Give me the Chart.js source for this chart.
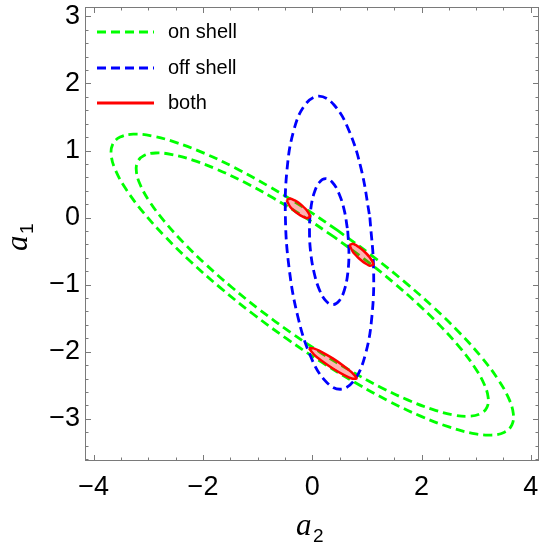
<!DOCTYPE html>
<html>
<head>
<meta charset="utf-8">
<script src="https://cdn.jsdelivr.net/npm/chart.js@4/dist/chart.umd.min.js"></script>
<style>
  body { margin: 0; background: #fff; }
  #wrap { width: 542px; height: 546px; }
</style>
</head>
<body>
<div id="wrap"><canvas id="shellChart" width="542" height="546"></canvas></div>
<script>
// axis ranges (a2 horizontal, a1 vertical)
const xRange = [-4.16, 4.15];
const yRange = [-3.63, 3.14];

// on shell: two nested ellipses, [a2, a1]
const onShellOuter = [[0.463,-0.191],[-0.178,0.160],[-0.815,0.475],[-1.426,0.747],[-1.994,0.965],[-2.501,1.122],[-2.932,1.217],[-3.276,1.243],[-3.518,1.200],[-3.654,1.092],[-3.679,0.920],[-3.592,0.689],[-3.396,0.407],[-3.097,0.082],[-2.704,-0.275],[-2.228,-0.655],[-1.685,-1.045],[-1.090,-1.434],[-0.463,-1.809],[0.178,-2.160],[0.815,-2.475],[1.426,-2.747],[1.994,-2.965],[2.501,-3.122],[2.932,-3.217],[3.276,-3.243],[3.518,-3.200],[3.654,-3.092],[3.679,-2.920],[3.592,-2.689],[3.396,-2.407],[3.097,-2.082],[2.704,-1.725],[2.228,-1.345],[1.685,-0.955],[1.090,-0.566],[0.463,-0.191]];
const onShellInner = [[0.405,-0.292],[-0.156,0.015],[-0.713,0.291],[-1.248,0.529],[-1.745,0.719],[-2.188,0.857],[-2.566,0.940],[-2.867,0.963],[-3.078,0.925],[-3.197,0.831],[-3.219,0.680],[-3.143,0.478],[-2.972,0.231],[-2.710,-0.053],[-2.366,-0.366],[-1.950,-0.698],[-1.474,-1.039],[-0.954,-1.380],[-0.405,-1.708],[0.156,-2.015],[0.713,-2.291],[1.248,-2.529],[1.745,-2.719],[2.188,-2.857],[2.566,-2.940],[2.867,-2.963],[3.078,-2.925],[3.197,-2.831],[3.219,-2.680],[3.143,-2.478],[2.972,-2.231],[2.710,-1.947],[2.366,-1.634],[1.950,-1.302],[1.474,-0.961],[0.954,-0.620],[0.405,-0.292]];

// off shell: two nested ellipses
const offShellOuter = [[1.054,0.004],[1.122,-0.754],[1.092,-1.468],[0.969,-2.049],[0.766,-2.428],[0.510,-2.560],[0.230,-2.428],[-0.041,-2.049],[-0.267,-1.468],[-0.424,-0.754],[-0.492,0.004],[-0.462,0.718],[-0.339,1.299],[-0.136,1.678],[0.120,1.810],[0.400,1.678],[0.671,1.299],[0.897,0.718],[1.054,0.004]];
const offShellInner = [[0.649,-0.197],[0.671,-0.523],[0.650,-0.830],[0.588,-1.080],[0.492,-1.243],[0.375,-1.300],[0.250,-1.243],[0.132,-1.080],[0.036,-0.830],[-0.029,-0.523],[-0.051,-0.197],[-0.030,0.110],[0.032,0.360],[0.128,0.523],[0.245,0.580],[0.370,0.523],[0.488,0.360],[0.585,0.110],[0.649,-0.197]];

// both: the three overlap regions
const bothLeft = [[-0.470,0.260],[-0.406,0.284],[-0.320,0.255],[-0.255,0.223],[-0.191,0.182],[-0.105,0.113],[-0.040,0.015],[-0.105,-0.009],[-0.191,0.020],[-0.255,0.053],[-0.320,0.093],[-0.406,0.162],[-0.470,0.260]];
const bothMiddle = [[0.680,-0.410],[0.746,-0.392],[0.834,-0.430],[0.900,-0.470],[0.966,-0.517],[1.054,-0.595],[1.120,-0.700],[1.054,-0.718],[0.966,-0.680],[0.900,-0.640],[0.834,-0.593],[0.746,-0.515],[0.680,-0.410]];
const bothBottom = [[-0.060,-1.950],[0.027,-1.950],[0.158,-1.998],[0.375,-2.100],[0.593,-2.223],[0.723,-2.310],[0.810,-2.400],[0.723,-2.400],[0.593,-2.353],[0.375,-2.250],[0.158,-2.128],[0.027,-2.040],[-0.060,-1.950]];

const legendLabels = ['on shell', 'off shell', 'both'];

const GREEN = '#00ff00';
const BLUE = '#0000ff';
const RED = '#ff0000';
const PINK = 'rgba(255, 0, 0, 0.3)';

function toPoints(arr) {
    return arr.map(p => ({ x: p[0], y: p[1] }));
}

function curve(arr, color, order) {
    return {
        data: toPoints(arr),
        showLine: true,
        borderColor: color,
        borderWidth: 2.8,
        borderDash: [9, 5],
        pointRadius: 0,
        tension: 0.4,
        fill: false,
        order: order
    };
}

function blob(arr) {
    return {
        data: toPoints(arr),
        showLine: true,
        borderColor: RED,
        backgroundColor: PINK,
        borderWidth: 2.5,
        pointRadius: 0,
        tension: 0.2,
        fill: 'shape',
        order: 0
    };
}

function minus(v) {
    return v < 0 ? '\u2212' + Math.abs(v) : String(v);
}

// frame, inward ticks, axis titles and legend (Mathematica style)
const framePlugin = {
    id: 'framePlugin',
    afterDraw(chart) {
        const c = chart.ctx;
        const a = chart.chartArea;
        const xs = chart.scales.x, ys = chart.scales.y;
        c.save();
        c.strokeStyle = '#7a7a7a';
        c.lineWidth = 1;
        c.strokeRect(a.left + 0.5, a.top + 0.5, a.right - a.left - 1, a.bottom - a.top - 1);

        c.beginPath();
        for (let i = Math.ceil(xs.min * 2); i <= Math.floor(xs.max * 2); i++) {
            const v = i / 2;
            const len = (i % 4 === 0) ? 6 : 3.5;
            const px = Math.round(xs.getPixelForValue(v)) + 0.5;
            c.moveTo(px, a.bottom); c.lineTo(px, a.bottom - len);
            c.moveTo(px, a.top); c.lineTo(px, a.top + len);
        }
        for (let i = Math.ceil(ys.min * 5); i <= Math.floor(ys.max * 5); i++) {
            const v = i / 5;
            const len = (i % 5 === 0) ? 6 : 3.5;
            const py = Math.round(ys.getPixelForValue(v)) + 0.5;
            c.moveTo(a.left, py); c.lineTo(a.left + len, py);
            c.moveTo(a.right, py); c.lineTo(a.right - len, py);
        }
        c.stroke();

        // axis titles
        c.fillStyle = '#000';
        c.textBaseline = 'alphabetic';
        c.textAlign = 'left';
        c.font = 'italic 31px "Liberation Serif"';
        c.fillText('a', 296, 535);
        c.font = '19px "Liberation Sans"';
        c.fillText('2', 313, 542);

        c.save();
        c.translate(27, 251);
        c.rotate(-Math.PI / 2);
        c.font = 'italic 31px "Liberation Serif"';
        c.fillText('a', 0, 0);
        c.font = '19px "Liberation Sans"';
        c.fillText('1', 17, 6);
        c.restore();

        // legend
        const styles = [[GREEN, [9, 5]], [BLUE, [9, 5]], [RED, []]];
        const rows = [32, 68, 103];
        c.font = '20px "Liberation Sans"';
        legendLabels.forEach((label, i) => {
            c.beginPath();
            c.strokeStyle = styles[i][0];
            c.lineWidth = 2.8;
            c.setLineDash(styles[i][1]);
            c.moveTo(97, rows[i]);
            c.lineTo(154, rows[i]);
            c.stroke();
            c.setLineDash([]);
            c.fillStyle = '#000';
            c.fillText(label, 168, rows[i] + 5.5);
        });
        c.restore();
    }
};

const ctx = document.getElementById('shellChart').getContext('2d');
new Chart(ctx, {
    type: 'scatter',
    data: {
        datasets: [
            blob(bothLeft),
            blob(bothMiddle),
            blob(bothBottom),
            curve(offShellOuter, BLUE, 1),
            curve(offShellInner, BLUE, 1),
            curve(onShellOuter, GREEN, 2),
            curve(onShellInner, GREEN, 2)
        ]
    },
    options: {
        responsive: false,
        animation: false,
        layout: { padding: { top: 7, right: 3, left: 0, bottom: 0 } },
        plugins: { legend: { display: false }, tooltip: { enabled: false } },
        scales: {
            x: {
                type: 'linear',
                min: xRange[0],
                max: xRange[1],
                grid: { display: false, drawTicks: false },
                border: { display: false },
                ticks: {
                    stepSize: 2,
                    includeBounds: false,
                    padding: 10,
                    color: '#000',
                    font: { family: 'Liberation Sans', size: 27 },
                    maxRotation: 0,
                    callback: minus
                },
                afterFit: s => { s.height = 85; s.paddingLeft = 0; s.paddingRight = 0; }
            },
            y: {
                type: 'linear',
                min: yRange[0],
                max: yRange[1],
                grid: { display: false, drawTicks: false },
                border: { display: false },
                ticks: {
                    stepSize: 1,
                    includeBounds: false,
                    padding: 5,
                    color: '#000',
                    font: { family: 'Liberation Sans', size: 27 },
                    callback: minus
                },
                afterFit: s => { s.width = 85; s.paddingTop = 0; s.paddingBottom = 0; }
            }
        }
    },
    plugins: [framePlugin]
});
</script>
</body>
</html>
